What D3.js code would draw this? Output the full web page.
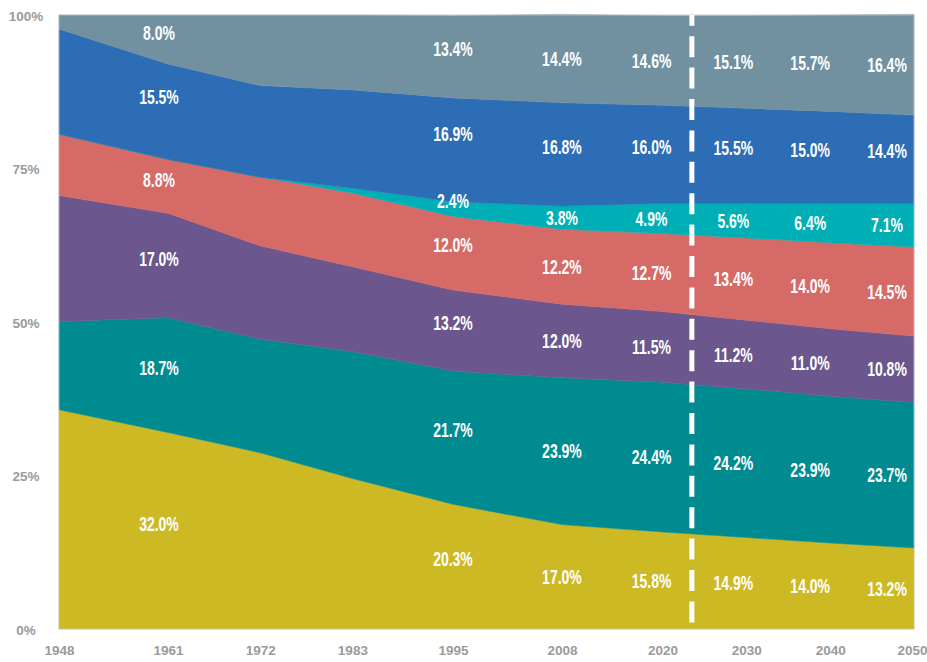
<!DOCTYPE html>
<meta charset="utf-8">
<style>
body { margin: 0; background: #fff; }
.axis path, .axis line { display: none; }
</style>
<body>
<script src="https://d3js.org/d3.v7.min.js"></script>
<script>

// years on the x axis
var years = [1948, 1961, 1972, 1983, 1995, 2008, 2020, 2030, 2040, 2050];
// years that carry value labels
var labelYears = [1961, 1995, 2008, 2020, 2030, 2040, 2050];

// shares in %, bottom band first
var yellow = [35.7, 32.0, 28.7, 24.5, 20.3, 17.0, 15.8, 14.9, 14.0, 13.2];
var teal   = [14.4, 18.7, 18.5, 20.7, 21.7, 23.9, 24.4, 24.2, 23.9, 23.7];
var purple = [20.5, 17.0, 15.2, 13.8, 13.2, 12.0, 11.5, 11.2, 11.0, 10.8];
var red    = [10.0,  8.8, 11.2, 12.0, 12.0, 12.2, 12.7, 13.4, 14.0, 14.5];
var cyan   = [ 0.0,  0.0,  0.0,  0.8,  2.4,  3.8,  4.9,  5.6,  6.4,  7.1];
var blue   = [17.1, 15.5, 14.9, 16.0, 16.9, 16.8, 16.0, 15.5, 15.0, 14.4];
var grey   = [ 2.3,  8.0, 11.5, 12.2, 13.4, 14.4, 14.6, 15.1, 15.7, 16.4];

var yTicks = [0, 25, 50, 75, 100];
var dividerYear = 2023.5;

var keys = ["yellow", "teal", "purple", "red", "cyan", "blue", "grey"];
var colors = {
  yellow: "#cdb923", teal: "#008b91", purple: "#6b578d", red: "#d66a67",
  cyan: "#00afb6", blue: "#2d6db5", grey: "#7191a0"
};
var series = {yellow: yellow, teal: teal, purple: purple, red: red, cyan: cyan, blue: blue, grey: grey};

var table = years.map(function(yr, i) {
  var row = {year: yr};
  keys.forEach(function(k) { row[k] = series[k][i]; });
  return row;
});

var margin = {top: 15, right: 13, bottom: 33, left: 59},
    width = 927 - margin.left - margin.right,
    height = 662 - margin.top - margin.bottom;

var x = d3.scaleLinear().domain([1948, 2050]).range([0, width]);
var y = d3.scaleLinear().domain([0, 100]).range([height, 0]);

var svg = d3.select("body").append("svg")
    .attr("width", 927)
    .attr("height", 662);

var chart = svg.append("g")
    .attr("transform", "translate(" + margin.left + "," + margin.top + ")");

var stacked = d3.stack().keys(keys)(table);

var area = d3.area()
    .x(function(d) { return x(d.data.year); })
    .y0(function(d) { return y(d[0]); })
    .y1(function(d) { return y(d[1]); });

chart.selectAll(".band").data(stacked).enter()
  .append("path")
    .attr("class", "band")
    .attr("d", area)
    .attr("fill", function(d) { return colors[d.key]; })
    .attr("stroke", function(d) { return colors[d.key]; })
    .attr("stroke-width", 0.5);

// thin frame
chart.append("rect")
    .attr("width", width)
    .attr("height", height)
    .attr("fill", "none")
    .attr("stroke", "#c4c4c4")
    .attr("stroke-width", 0.8);

// dashed divider between past and projection
chart.append("line")
    .attr("x1", x(dividerYear)).attr("x2", x(dividerYear))
    .attr("y1", y(100)).attr("y2", y(0))
    .attr("stroke", "#fff")
    .attr("stroke-width", 5)
    .attr("stroke-dasharray", "21,10.4")
    .attr("stroke-dashoffset", 10.2);

// value labels, nudged like the original layout
var labelNudgeX = {1961: -9, 2020: -11, 2030: -13, 2040: -20, 2050: -27};
var labelNudgeYear = {1961: -7, 1995: -8};
var labelNudgeKey = {blue: -8};
var labels = [];
stacked.forEach(function(s) {
  s.forEach(function(d) {
    var yr = d.data.year;
    var v = d[1] - d[0];
    if (labelYears.indexOf(yr) < 0 || v <= 0) return;
    labels.push({key: s.key, year: yr, v: v, mid: (d[0] + d[1]) / 2});
  });
});

chart.selectAll(".val").data(labels).enter()
  .append("text")
    .attr("class", "val")
    .attr("transform", function(d) {
      var tx = x(d.year) + (labelNudgeX[d.year] || 0);
      var ty = y(d.mid) + (labelNudgeYear[d.year] || 0) + (labelNudgeKey[d.key] || 0);
      return "translate(" + tx + "," + ty + ") scale(0.7,1)";
    })
    .attr("dy", "0.36em")
    .attr("text-anchor", "middle")
    .style("font-family", "'Liberation Sans', Arial, sans-serif")
    .style("font-weight", "bold")
    .style("font-size", "20px")
    .style("fill", "#fff")
    .text(function(d) { return d3.format(".1f")(d.v) + "%"; });

// axes
var xAxis = d3.axisBottom(x).tickValues(years).tickFormat(d3.format("d")).tickSize(0).tickPadding(16);
var xg = chart.append("g")
    .attr("class", "x axis")
    .attr("transform", "translate(0," + height + ")")
    .call(xAxis);
xg.selectAll("text")
    .attr("x", function(d) { return d === 2050 ? -2 : 0; });

var yAxis = d3.axisLeft(y).tickValues(yTicks).tickFormat(function(d) { return d + "%"; }).tickSize(0);
var yg = chart.append("g")
    .attr("class", "y axis")
    .call(yAxis);
yg.selectAll("text")
    .attr("text-anchor", "middle")
    .attr("x", -33)
    .attr("dy", "0.4em");

svg.selectAll(".axis text")
    .style("font-family", "'Liberation Sans', Arial, sans-serif")
    .style("font-weight", "bold")
    .style("font-size", "13.5px")
    .style("fill", "#9a9a9a");

</script>
</body>
